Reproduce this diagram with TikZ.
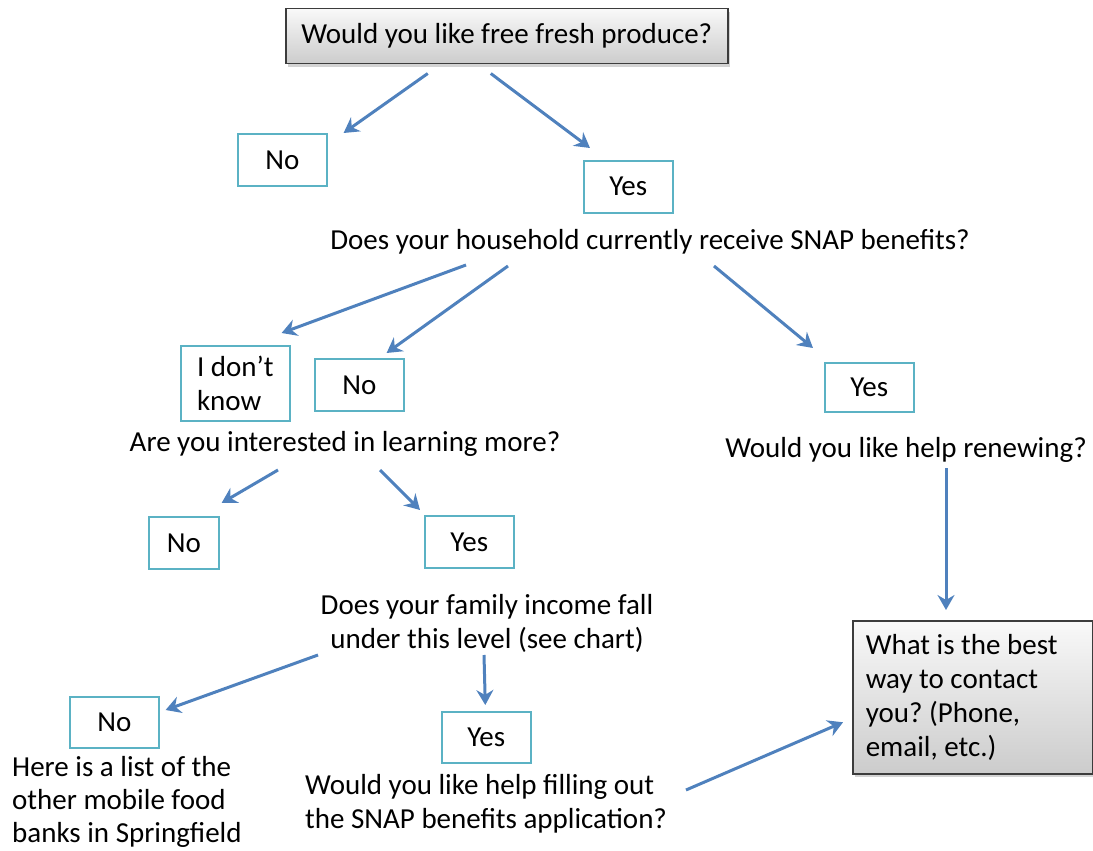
\documentclass[tikz,border=0pt]{standalone}
\usepackage{fontspec}
\setmainfont{Carlito}
\usetikzlibrary{arrows.meta,shadows,calc}
\definecolor{arrowblue}{RGB}{79,129,189}
\definecolor{boxteal}{RGB}{91,178,196}
\definecolor{boxborder}{RGB}{60,60,60}
\begin{document}
\begin{tikzpicture}[x=1pt,y=-1pt,
 font=\fontsize{29}{34}\selectfont\frenchspacing,
 ansbox/.style={draw=boxteal, line width=1.6pt, minimum width=89pt, minimum height=52pt, inner sep=0pt, anchor=north west, align=center},
 qbox/.style={draw=boxborder, line width=1.5pt, top color=gray!5, bottom color=gray!40, drop shadow={opacity=0.35, shadow xshift=2pt, shadow yshift=-3pt}, anchor=north west, inner sep=0pt},
 txt/.style={inner sep=0pt, align=center},
 arr/.style={draw=arrowblue, line width=3pt, -{Stealth[length=15pt,width=17pt,inset=5pt]}}]
\useasboundingbox (0,0) rectangle (1093,851);
\node[qbox, minimum width=442pt, minimum height=55pt] (q1) at (285,8) {Would you like free fresh produce?};
\node[ansbox] (no1) at (237,133) {No};
\node[ansbox] (yes1) at (583,160) {Yes};
\node[txt] (q2) at (650,242) {Does your household currently receive SNAP benefits?};
\node[ansbox, minimum width=109pt, minimum height=75pt, align=flush left] (idk) at (180,345) {I don’t\\know};
\node[ansbox] (no2) at (314,358) {No};
\node[ansbox, minimum height=49pt] (yes2) at (824,362) {Yes};
\node[txt] (q3) at (345,444) {Are you interested in learning more?};
\node[txt] (q4) at (906,450) {Would you like help renewing?};
\node[ansbox, minimum width=70pt] (no3) at (148,516) {No};
\node[ansbox] (yes3) at (424,515) {Yes};
\node[txt] (q5) at (487,623) {Does your family income fall\\under this level (see chart)};
\node[qbox, minimum width=240pt, minimum height=153pt, align=flush left, text width=214pt, inner xsep=13pt] (q6) at (852,620) {What is the best\\way to contact\\you? (Phone,\\email, etc.)};
\node[ansbox, minimum height=51pt] (no4) at (69,696) {No};
\node[ansbox, minimum height=51pt] (yes4) at (441,711) {Yes};
\node[txt, align=flush left, anchor=north west, font=\fontsize{29}{33}\selectfont] (q7) at (12,756) {Here is a list of the\\other mobile food\\banks in Springfield};
\node[txt, align=flush left, anchor=north west] (q8) at (305,774) {Would you like help filling out\\the SNAP benefits application?};
\draw[arr] ($(q1.south)+(-79,9)$) -- ($(no1.north east)+(16,0)$);
\draw[arr] ($(q1.south)+(-16,9)$) -- ($(yes1.north west)+(7,-12)$);
\draw[arr] ($(q2.center)+(-184,23)$) -- ($(idk.north east)+(-9,-12)$);
\draw[arr] ($(q2.center)+(-142,24)$) -- ($(no2.north east)+(-18,-5)$);
\draw[arr] ($(q2.center)+(64,24)$) -- ($(yes2.north west)+(-11,-14)$);
\draw[arr] ($(q3.center)+(-67,26)$) -- ($(no3.north east)+(2,-13)$);
\draw[arr] ($(q3.center)+(35,26)$) -- ($(yes3.north west)+(-4,-5)$);
\draw[arr] ($(q4.center)+(40,18)$) -- ($(q6.north west)+(94,-10)$);
\draw[arr] ($(q5.center)+(-169,32)$) -- ($(no4.north east)+(6,14)$);
\draw[arr] ($(q5.center)+(-3,32)$) -- ($(yes4.north)+(-1,-6)$);
\draw[arr] ($(q8.north west)+(381,16)$) -- ($(q6.west)+(-9,25)$);
\end{tikzpicture}
\end{document}
